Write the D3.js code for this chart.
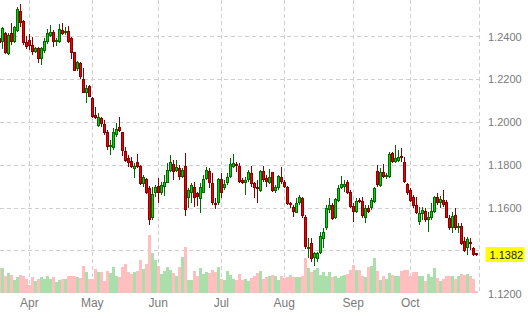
<html>
<head>
<script src="https://d3js.org/d3.v7.min.js" charset="utf-8"></script>
<style>
body { margin: 0; background: #fff; font-family: Arial, "Liberation Sans", sans-serif; }
svg { display: block; }
</style>
</head>
<body>

<div id="canvas"></div>

<script>
// daily candles, first one is Mar 16, index = trading day
var months = ["Apr", "May", "Jun", "Jul", "Aug", "Sep", "Oct", ""];
var monthStart = [10, 31, 53, 74, 95, 118, 137, 160];
var priceTicks = [1.12, 1.14, 1.16, 1.18, 1.20, 1.22, 1.24];
var lastPrice = 1.1382;

var open = [
1.2394,1.2376,1.2416,1.2318,1.2416,1.2376,1.2428,1.2520,1.2473,1.2376,
1.2384,1.2361,1.2327,1.2346,1.2294,1.2333,1.2374,1.2403,1.2423,1.2374,
1.2376,1.2431,1.2420,1.2426,1.2392,1.2327,1.2248,1.2278,1.2202,1.2138,
1.2170,1.2115,1.2034,1.1984,1.2019,1.1992,1.1954,1.1884,1.1879,1.1941,
1.1977,1.1954,1.1868,1.1832,1.1820,1.1781,1.1814,1.1796,1.1711,1.1736,
1.1692,1.1552,1.1672,1.1703,1.1669,1.1700,1.1718,1.1774,1.1806,1.1773,
1.1786,1.1744,1.1796,1.1646,1.1669,1.1700,1.1669,1.1641,1.1672,1.1734,
1.1773,1.1716,1.1625,1.1622,1.1734,1.1692,1.1716,1.1744,1.1793,1.1806,
1.1796,1.1731,1.1716,1.1731,1.1765,1.1716,1.1700,1.1681,1.1773,1.1739,
1.1718,1.1767,1.1680,1.1692,1.1746,1.1723,1.1700,1.1625,1.1606,1.1578,
1.1622,1.1646,1.1560,1.1412,1.1436,1.1366,1.1361,1.1389,1.1454,1.1506,
1.1591,1.1614,1.1552,1.1634,1.1692,1.1697,1.1720,1.1676,1.1610,1.1583,
1.1638,1.1633,1.1552,1.1602,1.1599,1.1630,1.1773,1.1703,1.1767,1.1744,
1.1744,1.1856,1.1816,1.1821,1.1843,1.1816,1.1712,1.1684,1.1650,1.1614,
1.1536,1.1572,1.1588,1.1544,1.1552,1.1583,1.1650,1.1622,1.1638,1.1627,
1.1552,1.1506,1.1568,1.1506,1.1516,1.1448,1.1412,1.1443,1.1412,1.1389];

var high = [
1.2408,1.2446,1.2424,1.2415,1.2462,1.2450,1.2540,1.2552,1.2478,1.2403,
1.2411,1.2400,1.2353,1.2353,1.2353,1.2392,1.2434,1.2454,1.2431,1.2392,
1.2459,1.2462,1.2446,1.2450,1.2400,1.2330,1.2286,1.2283,1.2252,1.2174,
1.2174,1.2120,1.2070,1.2042,1.2026,1.2011,1.1964,1.1918,1.1972,1.1996,
1.2026,1.1956,1.1886,1.1848,1.1840,1.1809,1.1852,1.1801,1.1754,1.1739,
1.1703,1.1700,1.1708,1.1739,1.1723,1.1754,1.1809,1.1848,1.1824,1.1824,
1.1801,1.1786,1.1856,1.1692,1.1716,1.1723,1.1676,1.1716,1.1754,1.1790,
1.1786,1.1762,1.1646,1.1739,1.1762,1.1731,1.1762,1.1832,1.1852,1.1816,
1.1809,1.1739,1.1746,1.1778,1.1796,1.1723,1.1731,1.1778,1.1796,1.1754,
1.1781,1.1770,1.1708,1.1754,1.1793,1.1731,1.1703,1.1630,1.1614,1.1646,
1.1661,1.1653,1.1568,1.1460,1.1460,1.1396,1.1396,1.1490,1.1506,1.1614,
1.1646,1.1622,1.1646,1.1708,1.1750,1.1731,1.1731,1.1684,1.1622,1.1646,
1.1646,1.1653,1.1614,1.1614,1.1646,1.1700,1.1801,1.1786,1.1806,1.1765,
1.1863,1.1863,1.1894,1.1871,1.1879,1.1840,1.1716,1.1692,1.1661,1.1653,
1.1606,1.1606,1.1599,1.1583,1.1622,1.1656,1.1669,1.1656,1.1684,1.1638,
1.1568,1.1583,1.1599,1.1529,1.1529,1.1466,1.1466,1.1459,1.1420,1.1392];

var low = [
1.2352,1.2341,1.2321,1.2314,1.2361,1.2372,1.2423,1.2446,1.2361,1.2341,
1.2338,1.2314,1.2322,1.2278,1.2268,1.2322,1.2364,1.2397,1.2350,1.2358,
1.2372,1.2408,1.2408,1.2372,1.2294,1.2240,1.2241,1.2201,1.2136,1.2092,
1.2117,1.2019,1.2014,1.1980,1.1980,1.1941,1.1871,1.1848,1.1871,1.1933,
1.1956,1.1844,1.1816,1.1793,1.1786,1.1739,1.1786,1.1708,1.1700,1.1666,
1.1521,1.1544,1.1650,1.1625,1.1661,1.1656,1.1716,1.1770,1.1731,1.1770,
1.1731,1.1739,1.1563,1.1599,1.1622,1.1606,1.1610,1.1578,1.1669,1.1731,
1.1692,1.1614,1.1594,1.1614,1.1646,1.1684,1.1708,1.1739,1.1786,1.1770,
1.1718,1.1712,1.1661,1.1723,1.1700,1.1646,1.1622,1.1676,1.1723,1.1700,
1.1712,1.1676,1.1672,1.1684,1.1712,1.1692,1.1614,1.1599,1.1560,1.1576,
1.1614,1.1552,1.1409,1.1367,1.1348,1.1330,1.1348,1.1386,1.1412,1.1498,
1.1576,1.1544,1.1548,1.1630,1.1688,1.1676,1.1666,1.1599,1.1536,1.1576,
1.1622,1.1552,1.1529,1.1576,1.1591,1.1622,1.1700,1.1700,1.1739,1.1734,
1.1739,1.1812,1.1809,1.1816,1.1816,1.1718,1.1661,1.1630,1.1599,1.1571,
1.1521,1.1544,1.1536,1.1490,1.1544,1.1578,1.1614,1.1599,1.1606,1.1552,
1.1498,1.1482,1.1498,1.1482,1.1428,1.1396,1.1381,1.1404,1.1378,1.1375];

var close = [
1.2370,1.2439,1.2325,1.2408,1.2376,1.2446,1.2529,1.2465,1.2372,1.2350,
1.2358,1.2327,1.2346,1.2294,1.2346,1.2380,1.2416,1.2423,1.2376,1.2384,
1.2434,1.2411,1.2426,1.2376,1.2322,1.2241,1.2280,1.2213,1.2138,1.2159,
1.2120,1.2026,1.2019,1.2026,1.1991,1.1949,1.1884,1.1894,1.1954,1.1969,
1.1960,1.1868,1.1821,1.1812,1.1793,1.1796,1.1793,1.1711,1.1744,1.1672,
1.1544,1.1664,1.1697,1.1669,1.1708,1.1723,1.1778,1.1814,1.1770,1.1790,
1.1746,1.1778,1.1591,1.1684,1.1708,1.1646,1.1653,1.1700,1.1734,1.1778,
1.1716,1.1622,1.1614,1.1734,1.1669,1.1712,1.1744,1.1806,1.1809,1.1796,
1.1723,1.1718,1.1731,1.1770,1.1712,1.1692,1.1688,1.1773,1.1731,1.1723,
1.1746,1.1681,1.1700,1.1750,1.1723,1.1700,1.1619,1.1614,1.1583,1.1625,
1.1653,1.1563,1.1420,1.1420,1.1361,1.1389,1.1389,1.1470,1.1490,1.1599,
1.1614,1.1548,1.1641,1.1692,1.1712,1.1711,1.1669,1.1604,1.1583,1.1633,
1.1630,1.1563,1.1599,1.1583,1.1638,1.1692,1.1708,1.1767,1.1744,1.1754,
1.1852,1.1816,1.1832,1.1840,1.1832,1.1723,1.1672,1.1634,1.1610,1.1576,
1.1578,1.1591,1.1544,1.1560,1.1588,1.1653,1.1622,1.1641,1.1614,1.1555,
1.1508,1.1563,1.1508,1.1516,1.1432,1.1401,1.1454,1.1432,1.1381,1.1382];

var volume = [
25,25,17,20,18,13,16,18,17,14, 8,16,12,14,16,14,17,14,16,11,
13,14,14,17,17,17,16,15,27,21, 14,14,24,21,21,12,22,20,26,17,
16,26,29,21,19,21,22,33,24,29, 58,40,33,27,19,22,26,23,20,17,
26,36,46,13,13,22,17,25,19,21, 20,23,21,26,14,13,22,18,14,13,
19,13,14,12,15,17,20,22,14,16, 17,18,17,13,17,15,16,18,16,16,
16,17,35,25,21,23,25,18,21,17, 21,16,17,15,17,18,19,23,28,23,
23,17,16,26,27,35,22,13,17,14, 20,18,17,17,22,23,23,17,21,21,
17,17,12,19,16,25,15,12,14,17, 17,17,14,17,19,18,19,17,14,2];

var width = 528, height = 318;
var plotRight = 479, plotBottom = 293;

var svg = d3.select("#canvas").append("svg").attr("width", width).attr("height", height);

var x = d3.scaleLinear().domain([0, 160]).range([-0.7, 479.3]);
var y = d3.scaleLinear().domain([1.12, 1.24]).range([293.8, 36.7]);
var yv = d3.scaleLinear().domain([0, 60]).range([plotBottom, plotBottom - 60]);

var data = open.map(function(o, i) {
	return {i: i, o: o, h: high[i], l: low[i], c: close[i], v: volume[i], up: close[i] >= o};
});

// grid
var grid = svg.append("g").attr("stroke", "#d0d0d0").attr("stroke-dasharray", "4,3");
grid.selectAll(".hg").data(priceTicks.slice(1)).enter().append("line")
	.attr("x1", 0).attr("x2", plotRight)
	.attr("y1", function(d){ return Math.floor(y(d)) + 0.5; })
	.attr("y2", function(d){ return Math.floor(y(d)) + 0.5; });
grid.selectAll(".vg").data(monthStart).enter().append("line")
	.attr("x1", function(d){ return Math.floor(x(d)) + 0.5; })
	.attr("x2", function(d){ return Math.floor(x(d)) + 0.5; })
	.attr("y1", 0).attr("y2", plotBottom);

function left(i) { return Math.round(x(i) - 1.5); }

// volume
svg.append("g").selectAll("rect").data(data).enter().append("rect")
	.attr("x", function(d){ return left(d.i); })
	.attr("width", 3)
	.attr("y", function(d){ return Math.round(yv(d.v)); })
	.attr("height", function(d){ return plotBottom - Math.round(yv(d.v)); })
	.attr("fill", function(d){ return d.up ? "#aadeaa" : "#ffbfbf"; });

// candles
var candle = svg.append("g").selectAll("g").data(data).enter().append("g");
candle.append("line")
	.attr("x1", function(d){ return left(d.i) + 1.5; })
	.attr("x2", function(d){ return left(d.i) + 1.5; })
	.attr("y1", function(d){ return Math.round(y(d.h)); })
	.attr("y2", function(d){ return Math.round(y(d.l)); })
	.attr("stroke", function(d){ return d.up ? "#006a00" : "#8a0000"; });
candle.append("rect")
	.attr("x", function(d){ return left(d.i) + 0.5; })
	.attr("width", 2)
	.attr("y", function(d){ return Math.round(y(Math.max(d.o, d.c))) + 0.5; })
	.attr("height", function(d){
		return Math.max(1, Math.round(y(Math.min(d.o, d.c))) - Math.round(y(Math.max(d.o, d.c))) - 1);
	})
	.attr("fill", function(d){ return d.up ? "#00d800" : "#ee0000"; })
	.attr("stroke", function(d){ return d.up ? "#006a00" : "#8a0000"; });

// price labels (the one under the last-price tag is hidden by it)
var tagY = Math.round(y(lastPrice)) - 8;
svg.append("g").selectAll("text")
	.data(priceTicks.filter(function(d){ return Math.abs(y(d) - y(lastPrice)) > 10; }))
	.enter().append("text")
	.attr("x", 488)
	.attr("y", function(d){ return y(d); })
	.attr("dy", "0.35em")
	.attr("font-size", 11)
	.attr("fill", "#7a7a7a")
	.text(function(d){ return d.toFixed(4); });

// month labels
svg.append("g").selectAll("text").data(months).enter().append("text")
	.attr("x", function(d, i){ return x(monthStart[i]); })
	.attr("y", 307)
	.attr("text-anchor", "middle")
	.attr("font-size", 12)
	.attr("fill", "#7a7a7a")
	.text(function(d){ return d; });

// last price tag
svg.append("rect")
	.attr("x", 485.5).attr("y", tagY)
	.attr("width", 39).attr("height", 15)
	.attr("fill", "#ffff00");
svg.append("text")
	.attr("x", 489.5).attr("y", y(lastPrice))
	.attr("dy", "0.35em")
	.attr("font-size", 11)
	.attr("fill", "#222")
	.text(lastPrice.toFixed(4));
</script>

</body>
</html>
